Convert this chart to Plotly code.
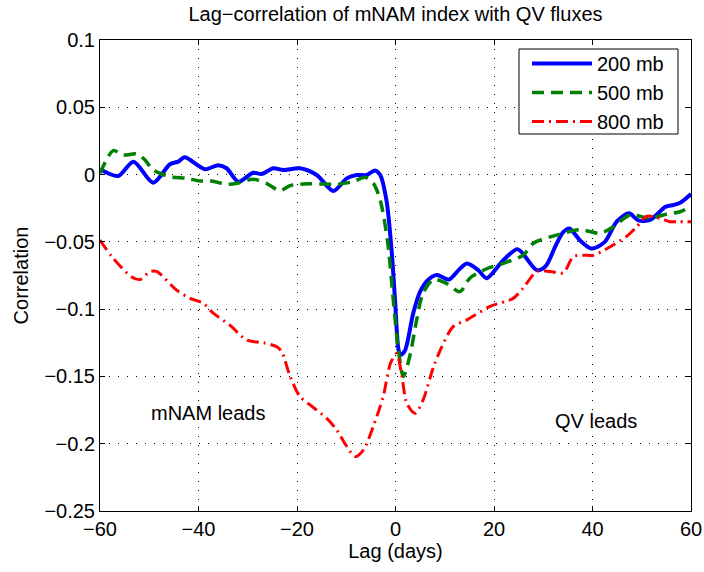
import plotly.graph_objects as go

# ---- data ----
blue_x = [-60, -56.3, -53.2, -49.2, -45.8, -44.1, -42.8, -38.7, -36, -34.3, -31.9, -28.9, -27.2,
          -24.8, -22.8, -19.4, -16, -12.6, -9.9, -7.9, -5.8, -4.2, -3.1, -1.8, -0.8, -0.1, 0.6,
          1.0, 1.9, 3.6, 5.0, 6.7, 8.4, 10.9, 12.8, 14.5, 16.8, 18.5, 21.8, 24.8, 28.7, 30.5,
          32.5, 34.0, 35.3, 37.5, 39.8, 42.5, 44.9, 47.4, 49.3, 51.7, 54.8, 56.4, 57.8, 60]
blue_y = [0.004, -0.001, 0.0096, -0.006, 0.0077, 0.0096, 0.0128, 0.004, 0.007, 0.0047, -0.0053,
          0.0014, 0.0004, 0.0047, 0.0034, 0.0047, -0.0003, -0.0122, -0.0028, -0.0003, -0.0003,
          0.003, -0.0003, -0.02, -0.056, -0.093, -0.13, -0.134, -0.131, -0.103, -0.087, -0.078,
          -0.0746, -0.078, -0.071, -0.066, -0.071, -0.077, -0.064, -0.0555, -0.071, -0.068,
          -0.053, -0.043, -0.040, -0.049, -0.055, -0.050, -0.035, -0.0288, -0.034, -0.0337,
          -0.024, -0.0226, -0.021, -0.0145]

green_x = [-60, -57.3, -55.3, -52.5, -50.9, -49.2, -45.8, -42.4, -39.7, -37.7, -34.3, -32.2,
           -28.9, -26.2, -23.5, -21.4, -18.7, -14.7, -11.9, -8.6, -6.2, -4.5, -3.1, -1.6,
           -0.45, 0.57, 1.6, 2.9, 4.3, 5.6, 7.7, 10.4, 13.1, 15.1, 18.5, 22.6, 25.9, 28,
           32.7, 37.5, 41.5, 44.2, 47.6, 51.7, 54.4, 57.8, 60]
green_y = [0.001, 0.0178, 0.0146, 0.0153, 0.011, 0.0034, -0.0016, -0.0028, -0.0048, -0.0045,
           -0.0072, -0.0065, -0.0035, -0.0065, -0.012, -0.0082, -0.007, -0.007, -0.0072,
           -0.0053, -0.002, -0.0065, -0.019, -0.05, -0.093, -0.13, -0.15, -0.135, -0.108,
           -0.088, -0.078, -0.081, -0.087, -0.077, -0.070, -0.065, -0.060, -0.051, -0.045,
           -0.041, -0.0436, -0.039, -0.030, -0.0325, -0.030, -0.0276, -0.024]

red_x = [-60, -57.6, -53.6, -51.9, -49.8, -48.5, -44.4, -41.7, -39, -37, -33.6, -30.2, -26.8,
         -24.1, -23.1, -21.4, -19.4, -17.4, -14, -11.9, -9.9, -8.2, -6.5, -4.5, -2.5, -1.0,
         0.25, 1.3, 2.3, 4.0, 5.6, 7.7, 9.4, 11.7, 14.5, 19.2, 23.9, 25.9, 28.7, 31.4, 34.1,
         36.1, 38.8, 40.2, 43.6, 46.9, 49, 51, 53.7, 55.7, 57.5, 60]
red_y = [-0.0486, -0.061, -0.076, -0.078, -0.072, -0.072, -0.086, -0.092, -0.0957, -0.103,
         -0.112, -0.123, -0.125, -0.128, -0.1316, -0.150, -0.165, -0.171, -0.181, -0.190,
         -0.202, -0.2096, -0.2046, -0.187, -0.165, -0.140, -0.133, -0.150, -0.170, -0.1774,
         -0.1675, -0.143, -0.128, -0.113, -0.108, -0.098, -0.092, -0.0845, -0.072, -0.072,
         -0.073, -0.061, -0.060, -0.060, -0.0536, -0.046, -0.0387, -0.031, -0.0325, -0.035,
         -0.035, -0.035]

series_names = ["200 mb", "500 mb", "800 mb"]
x_ticks = [-60, -40, -20, 0, 20, 40, 60]
y_ticks = [0.1, 0.05, 0, -0.05, -0.1, -0.15, -0.2, -0.25]
y_ticklabels = ["0.1", "0.05", "0", "\u22120.05", "\u22120.1", "\u22120.15", "\u22120.2", "\u22120.25"]
x_ticklabels = ["\u221260", "\u221240", "\u221220", "0", "20", "40", "60"]

FONT = "Liberation Sans, Arial, Helvetica, sans-serif"
FS = 20

fig = go.Figure()
fig.add_trace(go.Scatter(x=blue_x, y=blue_y, mode="lines", name=series_names[0],
                         line=dict(color="#0000ff", width=4, shape="spline", smoothing=0.8)))
fig.add_trace(go.Scatter(x=green_x, y=green_y, mode="lines", name=series_names[1],
                         line=dict(color="#008000", width=3.5, dash="12px,7px",
                                   shape="spline", smoothing=0.8)))
fig.add_trace(go.Scatter(x=red_x, y=red_y, mode="lines", name=series_names[2],
                         line=dict(color="#ff0000", width=3, dash="12px,5px,2px,5px",
                                   shape="spline", smoothing=0.8)))

axis_common = dict(
    showline=True, linecolor="black", linewidth=1, mirror="ticks",
    ticks="inside", ticklen=5, tickcolor="black",
    showgrid=True, gridcolor="black", gridwidth=1, griddash="1px,8px",
    zeroline=False, tickfont=dict(family=FONT, size=FS, color="black"),
    automargin=False,
)

fig.update_xaxes(range=[-60, 60], tickvals=x_ticks, ticktext=x_ticklabels,
                 title=dict(text="Lag (days)", font=dict(family=FONT, size=FS, color="black"),
                            standoff=2), **axis_common)
fig.update_yaxes(range=[-0.25, 0.1], tickvals=y_ticks, ticktext=y_ticklabels,
                 title=dict(text="Correlation", font=dict(family=FONT, size=FS, color="black"),
                            standoff=10), **axis_common)

fig.add_annotation(x=-38.1, y=-0.177, text="mNAM leads", showarrow=False,
                   font=dict(family=FONT, size=FS, color="black"))
fig.add_annotation(x=40.8, y=-0.183, text="QV leads", showarrow=False,
                   font=dict(family=FONT, size=FS, color="black"))

# legend frame (drawn as a shape so its size matches the reference box)
fig.add_shape(type="rect", xref="paper", yref="paper",
              x0=(519 - 100) / 591, x1=(678 - 100) / 591,
              y0=1 - (134 - 40) / 471, y1=1 - (49 - 40) / 471,
              line=dict(color="black", width=1), fillcolor="white", layer="above")

fig.update_layout(
    width=704, height=572,
    margin=dict(l=100, r=13, t=40, b=61, autoexpand=False),
    paper_bgcolor="white", plot_bgcolor="white",
    title=dict(text="Lag\u2212correlation of mNAM index with QV fluxes",
               x=0.5, xref="paper", xanchor="center", y=1 - 14 / 572, yanchor="middle",
               yref="container", font=dict(family=FONT, size=FS, color="black")),
    showlegend=True,
    legend=dict(x=(527 - 100) / 591, xanchor="left", y=1 - (44 - 40) / 471, yanchor="top",
                bgcolor="rgba(0,0,0,0)", borderwidth=0,
                font=dict(family=FONT, size=FS, color="black"),
                itemwidth=60, tracegroupgap=0),
)

fig.write_html("out.html")
